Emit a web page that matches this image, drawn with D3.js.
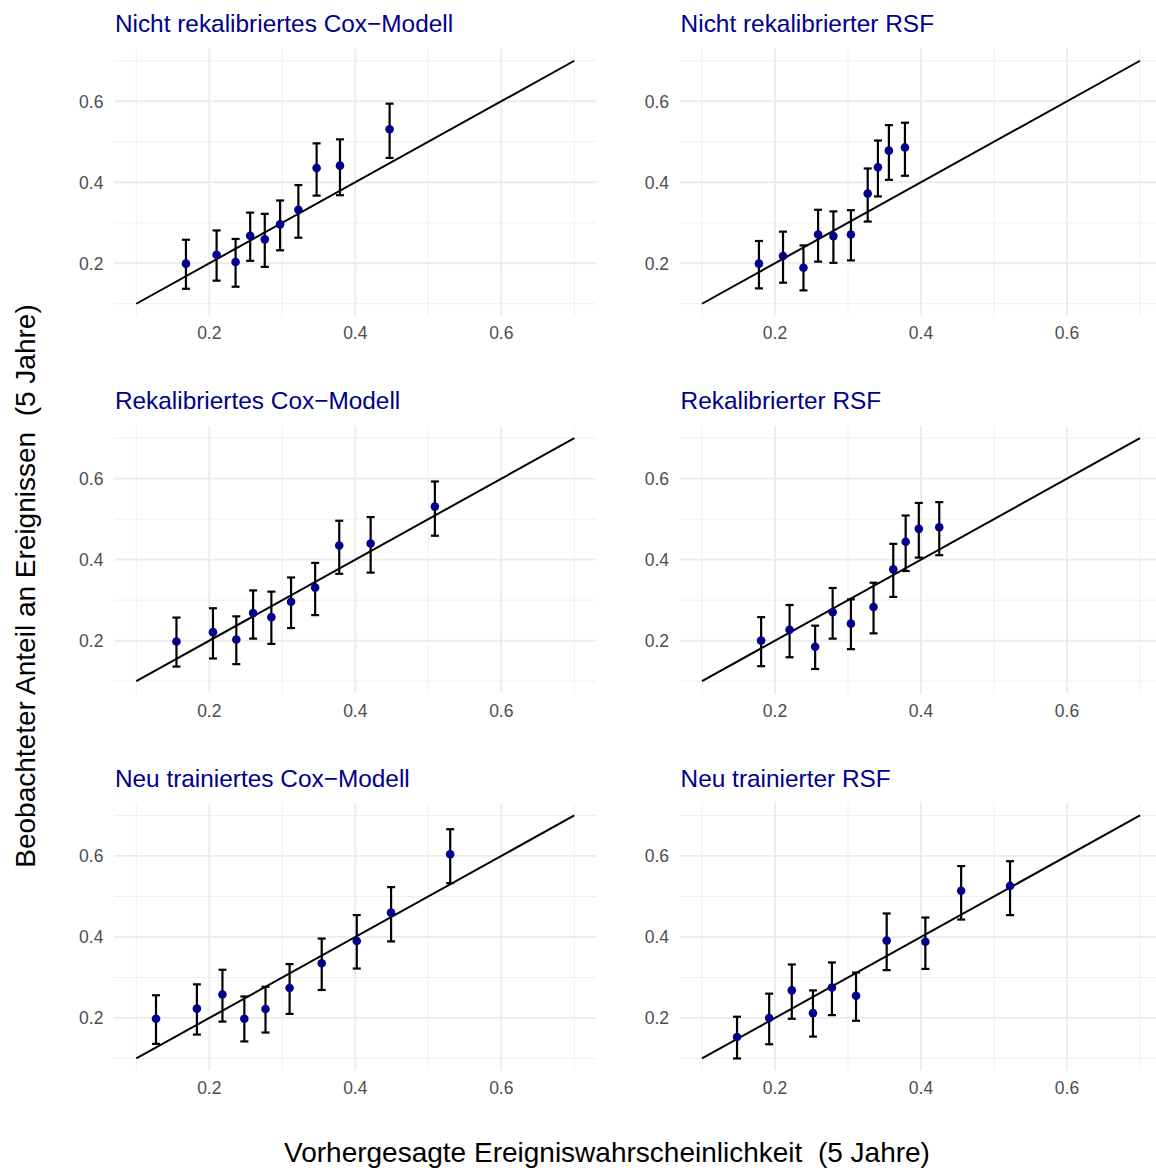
<html>
<head>
<script src="https://d3js.org/d3.v7.min.js"></script>
<style>
  body { margin: 0; background: #fff; }
  text { font-family: "Liberation Sans", Arial, sans-serif; }
</style>
</head>
<body>
<script>

// panel titles, row by row
var titles = ["Nicht rekalibriertes Cox\u2212Modell", "Nicht rekalibrierter RSF",
              "Rekalibriertes Cox\u2212Modell", "Rekalibrierter RSF",
              "Neu trainiertes Cox\u2212Modell", "Neu trainierter RSF"];

// predicted 5-year event probability per decile
var predicted = [
  [0.168, 0.210, 0.236, 0.256, 0.276, 0.297, 0.322, 0.347, 0.379, 0.447],
  [0.178, 0.211, 0.239, 0.259, 0.280, 0.304, 0.327, 0.341, 0.356, 0.378],
  [0.155, 0.205, 0.237, 0.260, 0.285, 0.312, 0.345, 0.378, 0.421, 0.509],
  [0.181, 0.220, 0.255, 0.279, 0.304, 0.335, 0.362, 0.379, 0.397, 0.425],
  [0.127, 0.183, 0.218, 0.248, 0.277, 0.310, 0.354, 0.402, 0.449, 0.530],
  [0.148, 0.192, 0.223, 0.252, 0.278, 0.311, 0.353, 0.406, 0.455, 0.522]
];

// observed proportion of events
var observed = [
  [0.199, 0.221, 0.203, 0.268, 0.259, 0.296, 0.332, 0.435, 0.441, 0.531],
  [0.199, 0.218, 0.189, 0.271, 0.267, 0.271, 0.372, 0.437, 0.478, 0.486],
  [0.198, 0.221, 0.203, 0.268, 0.258, 0.296, 0.331, 0.435, 0.440, 0.531],
  [0.200, 0.227, 0.185, 0.270, 0.242, 0.283, 0.376, 0.444, 0.476, 0.480],
  [0.198, 0.223, 0.258, 0.198, 0.222, 0.274, 0.335, 0.390, 0.460, 0.604],
  [0.153, 0.200, 0.268, 0.212, 0.275, 0.255, 0.391, 0.388, 0.514, 0.526]
];

var lower = [
  [0.137, 0.157, 0.142, 0.206, 0.191, 0.232, 0.263, 0.367, 0.368, 0.460],
  [0.138, 0.152, 0.133, 0.204, 0.201, 0.207, 0.303, 0.365, 0.406, 0.416],
  [0.136, 0.156, 0.142, 0.205, 0.192, 0.231, 0.263, 0.365, 0.368, 0.459],
  [0.137, 0.159, 0.130, 0.205, 0.179, 0.218, 0.308, 0.372, 0.405, 0.411],
  [0.136, 0.159, 0.191, 0.142, 0.164, 0.210, 0.269, 0.322, 0.389, 0.533],
  [0.100, 0.135, 0.198, 0.154, 0.207, 0.193, 0.318, 0.321, 0.443, 0.454]
];

var upper = [
  [0.258, 0.281, 0.260, 0.325, 0.322, 0.355, 0.393, 0.496, 0.506, 0.594],
  [0.255, 0.278, 0.244, 0.332, 0.328, 0.331, 0.434, 0.503, 0.541, 0.547],
  [0.257, 0.280, 0.260, 0.324, 0.321, 0.356, 0.392, 0.496, 0.505, 0.593],
  [0.258, 0.288, 0.237, 0.330, 0.302, 0.343, 0.439, 0.509, 0.540, 0.542],
  [0.256, 0.283, 0.319, 0.253, 0.277, 0.333, 0.396, 0.454, 0.523, 0.666],
  [0.203, 0.260, 0.332, 0.268, 0.337, 0.312, 0.458, 0.448, 0.575, 0.587]
];

var majorTicks = [0.2, 0.4, 0.6];
var minorTicks = [0.1, 0.3, 0.5, 0.7];
var refLine = [0.1, 0.7];

var W = 1156, H = 1171;
var colLeft = [114.4, 680.1],
    rowTop = [48.6, 426, 803.3],
    pw = 481.8, ph = 267.3;

var svg = d3.select("body").append("svg")
            .attr("width", W)
            .attr("height", H);

titles.forEach(function(title, i) {
  var col = i % 2, row = Math.floor(i / 2);
  var left = colLeft[col], top = rowTop[row];

  var x = d3.scaleLinear().domain([0.07, 0.73]).range([left, left + pw]);
  var y = d3.scaleLinear().domain([0.07, 0.73]).range([top + ph, top]);

  var g = svg.append("g");

  // grid
  g.selectAll(".vminor").data(minorTicks).enter().append("line")
    .attr("x1", d => x(d)).attr("x2", d => x(d))
    .attr("y1", top).attr("y2", top + ph)
    .attr("stroke", "#efefef").attr("stroke-width", 1);
  g.selectAll(".hminor").data(minorTicks).enter().append("line")
    .attr("y1", d => y(d)).attr("y2", d => y(d))
    .attr("x1", left).attr("x2", left + pw)
    .attr("stroke", "#efefef").attr("stroke-width", 1);
  g.selectAll(".vmajor").data(majorTicks).enter().append("line")
    .attr("x1", d => x(d)).attr("x2", d => x(d))
    .attr("y1", top).attr("y2", top + ph)
    .attr("stroke", "#ebebeb").attr("stroke-width", 1.8);
  g.selectAll(".hmajor").data(majorTicks).enter().append("line")
    .attr("y1", d => y(d)).attr("y2", d => y(d))
    .attr("x1", left).attr("x2", left + pw)
    .attr("stroke", "#ebebeb").attr("stroke-width", 1.8);

  // tick labels
  g.selectAll(".xlab").data(majorTicks).enter().append("text")
    .attr("x", d => x(d)).attr("y", top + ph + 23.5)
    .attr("text-anchor", "middle")
    .attr("font-size", 17.5).attr("fill", "#4d4d4d")
    .text(d => d.toFixed(1));
  g.selectAll(".ylab").data(majorTicks).enter().append("text")
    .attr("x", left - 11).attr("y", d => y(d))
    .attr("dy", "0.36em")
    .attr("text-anchor", "end")
    .attr("font-size", 17.5).attr("fill", "#4d4d4d")
    .text(d => d.toFixed(1));

  // panel title
  g.append("text")
    .attr("x", left + 0.5).attr("y", top - 16.8)
    .attr("font-size", 24.4).attr("fill", "#00008b")
    .text(title);

  // reference diagonal
  g.append("line")
    .attr("x1", x(refLine[0])).attr("y1", y(refLine[0]))
    .attr("x2", x(refLine[1])).attr("y2", y(refLine[1]))
    .attr("stroke", "#000").attr("stroke-width", 2);

  var pts = predicted[i].map(function(p, k) {
    return {p: p, o: observed[i][k], lo: lower[i][k], hi: upper[i][k]};
  });

  // error bars
  var eb = g.selectAll(".eb").data(pts).enter().append("g");
  eb.append("line")
    .attr("x1", d => x(d.p)).attr("x2", d => x(d.p))
    .attr("y1", d => y(d.lo)).attr("y2", d => y(d.hi))
    .attr("stroke", "#000").attr("stroke-width", 2.2);
  eb.append("line")
    .attr("x1", d => x(d.p) - 4).attr("x2", d => x(d.p) + 4)
    .attr("y1", d => y(d.lo)).attr("y2", d => y(d.lo))
    .attr("stroke", "#000").attr("stroke-width", 2.2);
  eb.append("line")
    .attr("x1", d => x(d.p) - 4).attr("x2", d => x(d.p) + 4)
    .attr("y1", d => y(d.hi)).attr("y2", d => y(d.hi))
    .attr("stroke", "#000").attr("stroke-width", 2.2);

  // points
  g.selectAll(".pt").data(pts).enter().append("circle")
    .attr("cx", d => x(d.p)).attr("cy", d => y(d.o))
    .attr("r", 4.3)
    .attr("fill", "#00008b");
});

// axis titles
svg.append("text")
   .attr("x", 607).attr("y", 1162)
   .attr("text-anchor", "middle")
   .attr("font-size", 28).attr("fill", "#000")
   .style("white-space", "pre")
   .text("Vorhergesagte Ereigniswahrscheinlichkeit  (5 Jahre)");

svg.append("text")
   .attr("transform", "translate(35,586) rotate(-90)")
   .attr("text-anchor", "middle")
   .attr("font-size", 28).attr("fill", "#000")
   .style("white-space", "pre")
   .text("Beobachteter Anteil an Ereignissen  (5 Jahre)");

</script>
</body>
</html>
